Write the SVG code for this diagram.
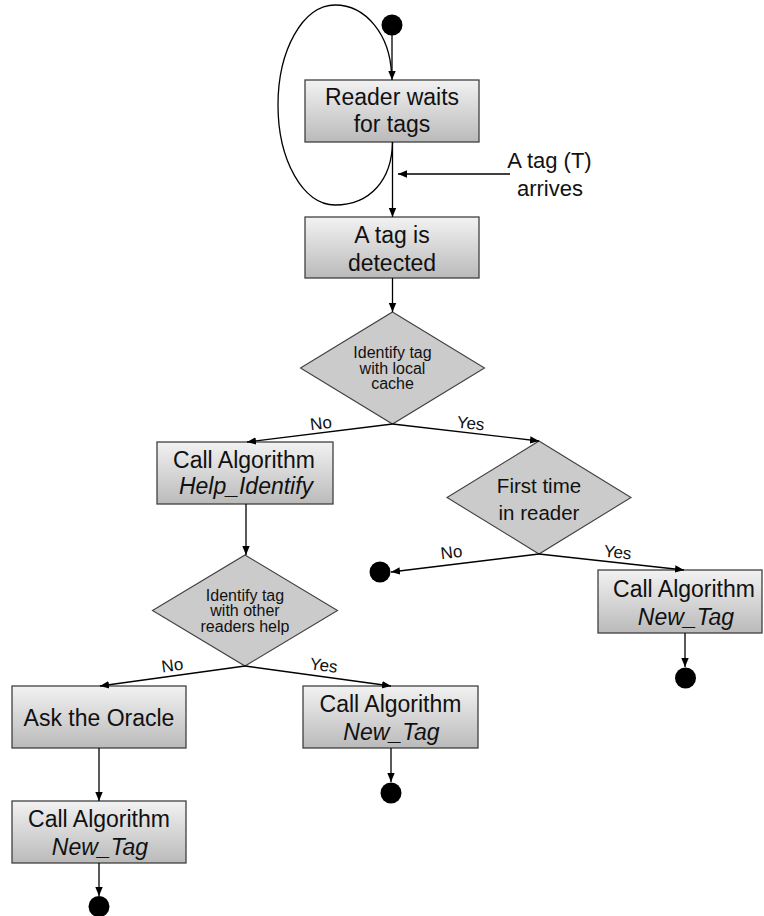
<svg xmlns="http://www.w3.org/2000/svg" width="764" height="916" viewBox="0 0 764 916">
<defs>
<linearGradient id="boxg" x1="0" y1="0" x2="0" y2="1">
<stop offset="0" stop-color="#f2f2f2"/>
<stop offset="1" stop-color="#bababa"/>
</linearGradient>
<marker id="arr" markerUnits="userSpaceOnUse" markerWidth="10" markerHeight="10" viewBox="0 0 10 10" refX="9" refY="5" orient="auto">
<path d="M0,1.3 L9,5 L0,8.7 Z" fill="#000"/>
</marker>
</defs>
<style>
.box{fill:url(#boxg);stroke:#404040;stroke-width:1.3}
.dia{fill:#cbcbcb;stroke:#404040;stroke-width:1.1}
.t{font-family:"Liberation Sans",Arial,sans-serif;font-size:23px;fill:#111;text-anchor:middle}
.ti{font-style:italic}
.d{font-family:"Liberation Sans",Arial,sans-serif;font-size:16px;fill:#111;text-anchor:middle}
.d2{font-size:20.5px}
.lab{font-family:"Liberation Sans",Arial,sans-serif;font-size:17px;fill:#111;text-anchor:middle}
.ln{fill:none;stroke:#000;stroke-width:1.3}
.dot{fill:#000}
</style>

<g id="start"><circle class="dot" cx="392" cy="25" r="10.5"/></g>

<g id="reader-waits">
<rect class="box" x="305" y="80" width="174" height="62"/>
<text class="t" x="392" y="105">Reader waits</text>
<text class="t" x="392" y="132">for tags</text>
</g>

<g id="tag-arrives">
<text class="t" style="font-size:22px" x="549.5" y="168">A tag (T)</text>
<text class="t" style="font-size:22px" x="550" y="196">arrives</text>
</g>

<g id="tag-detected">
<rect class="box" x="305" y="217" width="174" height="61"/>
<text class="t" x="392" y="243">A tag is</text>
<text class="t" x="392" y="270.5">detected</text>
</g>

<g id="identify-local">
<polygon class="dia" points="392.5,312 484.5,368 392.5,424 300.5,368"/>
<text class="d" x="392.5" y="358">Identify tag</text>
<text class="d" x="392.5" y="373.5">with local</text>
<text class="d" x="392.5" y="389">cache</text>
</g>

<g id="help-identify">
<rect class="box" x="157" y="442" width="176" height="62"/>
<text class="t" x="244" y="467.5">Call Algorithm</text>
<text class="t ti" x="246" y="494">Help_Identify</text>
</g>

<g id="first-time">
<polygon class="dia" points="539,441 631,497.5 539,554 447,497.5"/>
<text class="d d2" x="539" y="493.3">First time</text>
<text class="d d2" x="539" y="520">in reader</text>
</g>

<g id="end-no-first"><circle class="dot" cx="380" cy="572" r="10.5"/></g>

<g id="new-tag-right">
<rect class="box" x="598" y="570" width="164" height="63"/>
<text class="t" x="684" y="596.7">Call Algorithm</text>
<text class="t ti" x="686" y="625">New_Tag</text>
</g>
<g id="end-right"><circle class="dot" cx="685.5" cy="678" r="10.5"/></g>

<g id="identify-others">
<polygon class="dia" points="245,555 337.5,610.5 245,666 152.5,610.5"/>
<text class="d" x="245" y="600.7">Identify tag</text>
<text class="d" x="245" y="616">with other</text>
<text class="d" x="245" y="632">readers help</text>
</g>

<g id="ask-oracle">
<rect class="box" x="12" y="686" width="174" height="62"/>
<text class="t" x="99" y="726">Ask the Oracle</text>
</g>

<g id="new-tag-middle">
<rect class="box" x="303" y="686" width="175" height="62"/>
<text class="t" x="390.5" y="711.7">Call Algorithm</text>
<text class="t ti" x="391.5" y="740">New_Tag</text>
</g>
<g id="end-middle"><circle class="dot" cx="391" cy="793" r="10.5"/></g>

<g id="new-tag-bottom">
<rect class="box" x="12" y="801" width="174" height="62"/>
<text class="t" x="99" y="826.7">Call Algorithm</text>
<text class="t ti" x="100" y="855">New_Tag</text>
</g>
<g id="end-bottom"><circle class="dot" cx="99" cy="906.5" r="10.5"/></g>

<g id="connectors">
<line class="ln" x1="392" y1="35" x2="392" y2="80" marker-end="url(#arr)"/>
<path class="ln" d="M392.5 142 C392 180,370 205,335 205 C303 205,278 160,278 105 C278 50,303 5,335 5 C366 5,390 35,391.5 74"/>
<line class="ln" x1="392.5" y1="142" x2="392.5" y2="217" marker-end="url(#arr)"/>
<line class="ln" x1="510" y1="174" x2="398" y2="174" marker-end="url(#arr)"/>
<line class="ln" x1="392.5" y1="278" x2="392.5" y2="312" marker-end="url(#arr)"/>
<line class="ln" x1="392.5" y1="424" x2="247" y2="442" marker-end="url(#arr)"/>
<line class="ln" x1="392.5" y1="424" x2="539" y2="441" marker-end="url(#arr)"/>
<line class="ln" x1="246" y1="504" x2="246" y2="555" marker-end="url(#arr)"/>
<line class="ln" x1="539" y1="554" x2="391" y2="572" marker-end="url(#arr)"/>
<line class="ln" x1="539" y1="554" x2="684" y2="570" marker-end="url(#arr)"/>
<line class="ln" x1="685" y1="633" x2="685" y2="667" marker-end="url(#arr)"/>
<line class="ln" x1="245" y1="666" x2="100" y2="686" marker-end="url(#arr)"/>
<line class="ln" x1="245" y1="666" x2="391" y2="686" marker-end="url(#arr)"/>
<line class="ln" x1="99" y1="748" x2="99" y2="801" marker-end="url(#arr)"/>
<line class="ln" x1="391" y1="748" x2="391" y2="782" marker-end="url(#arr)"/>
<line class="ln" x1="99" y1="863" x2="99" y2="896" marker-end="url(#arr)"/>
<text class="lab" x="321.5" y="429" transform="rotate(-6.6 321.5 429)">No</text>
<text class="lab" x="470" y="429" transform="rotate(6.6 470 429)">Yes</text>
<text class="lab" x="452" y="558" transform="rotate(-6.6 452 558)">No</text>
<text class="lab" x="617" y="558" transform="rotate(6.6 617 558)">Yes</text>
<text class="lab" x="173" y="671" transform="rotate(-7.5 173 671)">No</text>
<text class="lab" x="323" y="671" transform="rotate(7.5 323 671)">Yes</text>
</g>
</svg>
